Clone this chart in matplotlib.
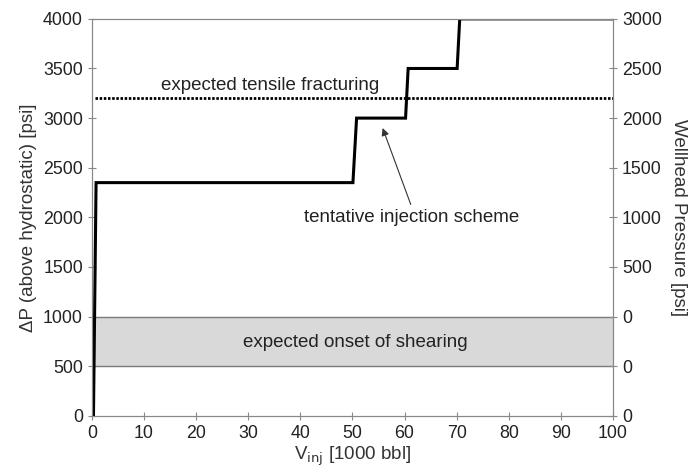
import matplotlib
matplotlib.use("Agg")
import matplotlib.pyplot as plt

plt.rcParams['font.family'] = ['Liberation Sans', 'DejaVu Sans']

# Data
scheme_x = [0.3, 0.8, 50.1, 50.8, 60.2, 60.7, 70.1, 70.6, 100]
scheme_y = [0, 2350, 2350, 3000, 3000, 3500, 3500, 4000, 4000]
tensile_level = 3200
tensile_x = [0.5, 100]
shear_low, shear_high = 500, 1000
left_ticks = [0, 500, 1000, 1500, 2000, 2500, 3000, 3500, 4000]
right_labels = ['0', '0', '0', '500', '1000', '1500', '2000', '2500', '3000']
x_ticks = list(range(0, 101, 10))

fig = plt.figure(figsize=(6.91, 4.71), dpi=100)
ax = fig.add_axes([0.133, 0.117, 0.754, 0.843])

spine_c = '#888888'
fs = 12.8
tfs = 13.5

ax.axhspan(shear_low, shear_high, xmin=0, xmax=1, facecolor='#d9d9d9', edgecolor='none', zorder=1)
ax.axhline(shear_low, color='#7a7a7a', lw=1.0, zorder=2)
ax.axhline(shear_high, color='#7a7a7a', lw=1.0, zorder=2)
ax.plot(tensile_x, [tensile_level, tensile_level], color='black', lw=2.0, ls=(0, (0.9, 0.6)), zorder=3)
ax.plot(scheme_x, scheme_y, color='black', lw=2.2, zorder=4, solid_joinstyle='miter')

ax.set_xlim(0, 100)
ax.set_ylim(0, 4000)
ax.set_xticks(x_ticks)
ax.set_yticks(left_ticks)
for s in ax.spines.values():
    s.set_color(spine_c)
ax.tick_params(axis='both', colors=spine_c, labelcolor='#222222', labelsize=fs, direction='inout', length=6)
ax.set_ylabel('ΔP (above hydrostatic) [psi]', fontsize=tfs, color='#333333', labelpad=4)
ax.set_xlabel(r'V$_{\mathrm{inj}}$ [1000 bbl]', fontsize=tfs, color='#333333', labelpad=2)

ax2 = ax.twinx()
ax2.set_ylim(0, 4000)
ax2.set_yticks(left_ticks)
ax2.set_yticklabels(right_labels)
for s in ax2.spines.values():
    s.set_color(spine_c)
ax2.tick_params(axis='y', colors=spine_c, labelcolor='#222222', labelsize=fs, direction='inout', length=6)
ax2.set_ylabel('Wellhead Pressure [psi]', fontsize=tfs, color='#333333', rotation=270, labelpad=18)

ax.text(34.3, 3330, 'expected tensile fracturing', fontsize=tfs, ha='center', va='center', color='#222222')
ax.text(50.5, 735, 'expected onset of shearing', fontsize=tfs, ha='center', va='center', color='#222222')
ax.text(61.4, 1995, 'tentative injection scheme', fontsize=tfs, ha='center', va='center', color='#222222')
ax.annotate('', xy=(55.8, 2900), xytext=(61.2, 2130),
            arrowprops=dict(arrowstyle='-|>', color='#333333', lw=0.8,
                            shrinkA=0, shrinkB=0, mutation_scale=11))

fig.savefig('out.png', dpi=100)
